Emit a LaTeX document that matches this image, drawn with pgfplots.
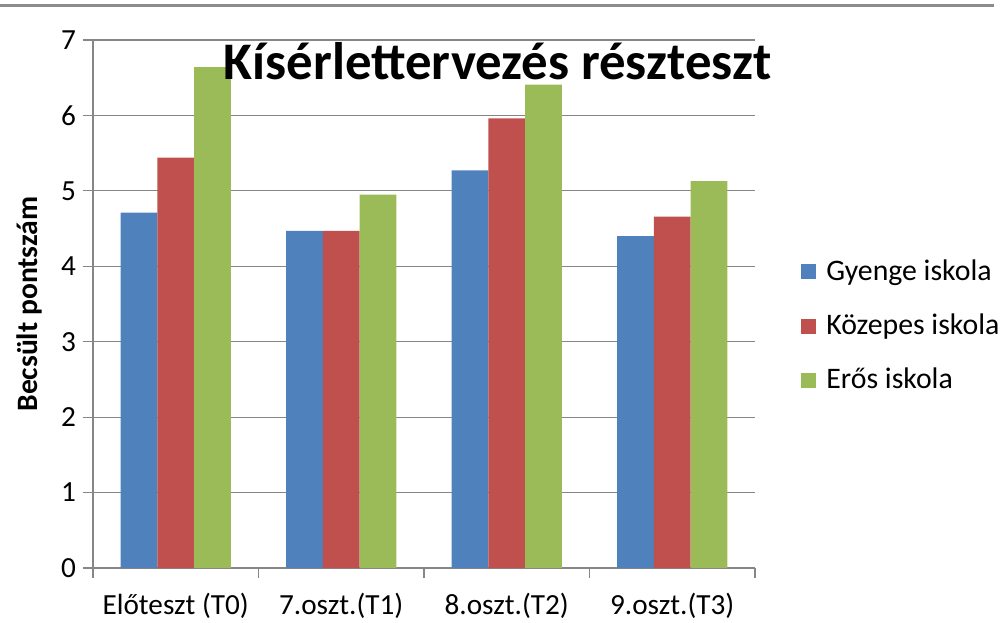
\documentclass[border=0pt]{standalone}
\usepackage{fontspec}
\setmainfont{Carlito}
\usepackage{pgfplots}
\pgfplotsset{compat=1.18}

\definecolor{gyenge}{HTML}{4F81BD}
\definecolor{kozepes}{HTML}{C0504D}
\definecolor{eros}{HTML}{9BBB59}
\definecolor{axisgray}{HTML}{868686}
\definecolor{framegray}{HTML}{8C8C8C}

\begin{document}
\begin{tikzpicture}
\path[use as bounding box] (0,0) rectangle (500.5pt,311pt);
\draw[line width=1.5pt, framegray] (0,308pt) -- (497pt,308pt);
\begin{axis}[
  at={(46.5pt,27pt)}, anchor=south west,
  scale only axis, width=331pt, height=264pt,
  xmin=-0.5, xmax=3.5, ymin=0, ymax=7,
  ytick={0,...,7},
  xtick={0,1,2,3},
  xticklabels={Előteszt (T0),7.oszt.(T1),8.oszt.(T2),9.oszt.(T3)},
  minor xtick={-0.5,0.5,1.5,2.5,3.5},
  axis lines*=left,
  ymajorgrids,
  grid style={axisgray, line width=0.6pt},
  axis line style={axisgray, line width=0.6pt},
  tick style={axisgray, line width=0.6pt},
  major x tick style={draw=none},
  tick align=outside,
  major tick length=5pt, minor tick length=5pt,
  /pgf/number format/assume math mode=true,
  tick label style={font=\fontsize{14.6pt}{17pt}\selectfont, text=black},
  xticklabel style={yshift=-4pt},
  ylabel={Becsült pontszám},
  ylabel style={font=\bfseries\fontsize{14.8pt}{17pt}\selectfont,
    at={(axis description cs:-0.0967,0.5)}, anchor=center},
  legend style={at={(axis description cs:1.0695,0.4583)}, anchor=west,
    draw=none, fill=none, inner sep=0pt, row sep=15.2pt,
    font=\fontsize{14.9pt}{17pt}\selectfont,
    nodes={inner xsep=5pt, inner ysep=0pt}},
  legend cell align=left,
  legend image code/.code={\fill[#1] (0pt,-3.75pt) rectangle (7.5pt,3.75pt);},
]
\addplot[ybar, bar width=0.2222, bar shift=-0.2222, fill=gyenge, draw=none]
  coordinates {(0,4.71) (1,4.47) (2,5.27) (3,4.40)};
\addplot[ybar, bar width=0.2222, bar shift=0, fill=kozepes, draw=none]
  coordinates {(0,5.44) (1,4.47) (2,5.96) (3,4.66)};
\addplot[ybar, bar width=0.2222, bar shift=0.2222, fill=eros, draw=none]
  coordinates {(0,6.64) (1,4.95) (2,6.41) (3,5.13)};
\legend{Gyenge iskola,Közepes iskola,Erős iskola}
\end{axis}
\node[anchor=base, font=\bfseries\fontsize{26.4pt}{30pt}\selectfont]
  at (249pt,271pt) {Kísérlettervezés részteszt};
\end{tikzpicture}
\end{document}
